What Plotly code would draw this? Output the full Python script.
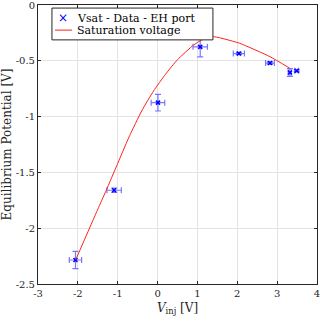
import plotly.graph_objects as go

# measured data (Vsat - Data - EH port)
v_inj = [-2.06, -1.09, 0.01, 1.07, 2.04, 2.82, 3.32, 3.49]
v_eq = [-2.285, -1.66, -0.875, -0.375, -0.435, -0.52, -0.605, -0.59]
v_inj_err = [0.155, 0.18, 0.17, 0.18, 0.14, 0.11, 0.04, 0.05]
v_eq_err = [0.078, 0.02, 0.075, 0.09, 0.01, 0.01, 0.035, 0.01]

# saturation voltage curve
sat_x = [-2.05, -1.5, -1.3, -1.0, -0.87, -0.7, -0.4, -0.1, 0.2, 0.5, 0.9,
         1.1, 1.25, 1.4, 1.55, 2.06, 2.82, 3.32]
sat_y = [-2.28, -1.83, -1.67, -1.42, -1.31, -1.17, -0.95, -0.77, -0.62, -0.49, -0.36,
         -0.315, -0.292, -0.284, -0.293, -0.343, -0.463, -0.567]

x_ticks = [-3, -2, -1, 0, 1, 2, 3, 4]
x_labels = ["-3", "-2", "-1", "0", "1", "2", "3", "4"]
y_ticks = [0, -0.5, -1, -1.5, -2, -2.5]
y_labels = ["0", "-0.5", "-1", "-1.5", "-2", "-2.5"]

serif = "DejaVu Serif"
err_col = "rgba(30,30,255,0.6)"

fig = go.Figure()
fig.add_trace(go.Scatter(
    x=v_inj, y=v_eq, mode="markers", name="Vsat - Data - EH port",
    marker=dict(symbol="x-thin", size=4, color="blue", line=dict(color="blue", width=1.5)),
    error_x=dict(type="data", array=v_inj_err, color=err_col, thickness=1.2, width=3),
    error_y=dict(type="data", array=v_eq_err, color=err_col, thickness=1.2, width=3),
))
fig.add_trace(go.Scatter(
    x=sat_x, y=sat_y, mode="lines", name="Saturation voltage",
    line=dict(color="#ff2020", width=1, shape="spline", smoothing=0.5),
))

axis_style = dict(
    showline=True, linecolor="#262626", linewidth=1, mirror="ticks",
    ticks="inside", ticklen=3, tickcolor="#262626", automargin=False,
    showgrid=True, gridcolor="#e3e3e3", gridwidth=1, zeroline=False,
    ticklabeloverflow="allow",
    tickfont=dict(family=serif, size=10, color="#262626"),
)

# hand-drawn legend box (MATLAB style, compact)
fig.add_shape(type="rect", xref="paper", yref="paper", x0=0.050, x1=0.627, y0=0.875, y1=0.989,
              line=dict(color="#262626", width=1), fillcolor="white", layer="above")
fig.add_shape(type="line", xref="paper", yref="paper", x0=0.061, x1=0.122, y0=0.910, y1=0.910,
              line=dict(color="#ff2020", width=1), layer="above")
fig.add_annotation(xref="paper", yref="paper", x=0.091, y=0.953, text="×", showarrow=False,
                   font=dict(family=serif, size=12, color="blue"), xanchor="center", yanchor="middle")
fig.add_annotation(xref="paper", yref="paper", x=0.133, y=0.953, text="Vsat - Data - EH port",
                   showarrow=False, font=dict(family=serif, size=11, color="black"),
                   xanchor="left", yanchor="middle")
fig.add_annotation(xref="paper", yref="paper", x=0.133, y=0.910, text="Saturation voltage",
                   showarrow=False, font=dict(family=serif, size=11, color="black"),
                   xanchor="left", yanchor="middle")

fig.update_layout(
    width=320, height=324,
    margin=dict(l=38, r=3, t=5, b=40),
    paper_bgcolor="white", plot_bgcolor="white",
    font=dict(family=serif, size=11, color="#262626"),
    xaxis=dict(range=[-3, 4], tickvals=x_ticks, ticktext=x_labels,
               title=dict(text="<i>V</i><sub>inj</sub> [V]", standoff=5,
                          font=dict(family=serif, size=12)), **axis_style),
    yaxis=dict(range=[-2.5, 0], tickvals=y_ticks, ticktext=y_labels,
               title=dict(text="Equilibrium Potential [V]", standoff=4,
                          font=dict(family=serif, size=12)), **axis_style),
    showlegend=False,
)

fig.write_html("out.html", config={"displayModeBar": False},
               post_script="document.body.style.margin='0';")
